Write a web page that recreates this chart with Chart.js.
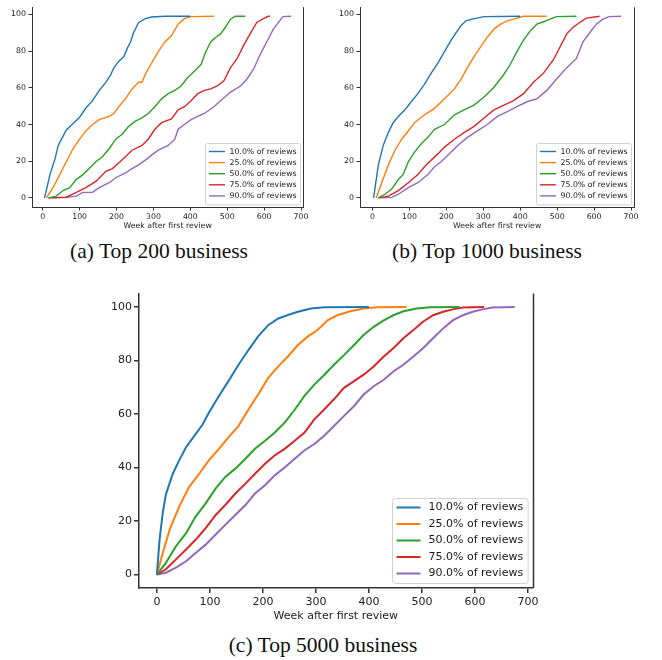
<!DOCTYPE html>
<html>
<head>
<meta charset="utf-8">
<script src="https://cdn.jsdelivr.net/npm/chart.js@4.4.0/dist/chart.umd.min.js"></script>
<style>
  body { margin: 0; background: #fff; width: 662px; height: 660px; position: relative; overflow: hidden; }
  canvas { position: absolute; }
  .cap {
    position: absolute; transform: translate(-50%, -50%);
    font-family: "Liberation Serif", "Times New Roman", serif; font-size: 21.5px;
    line-height: 1; white-space: nowrap; color: #111;
  }
</style>
</head>
<body>
<canvas id="top200" width="310" height="231" style="left:0;top:0"></canvas>
<canvas id="top1000" width="309" height="231" style="left:331px;top:0"></canvas>
<canvas id="top5000" width="441" height="338" style="left:100px;top:285px"></canvas>
<div class="cap" style="left:159px;top:252px">(a) Top 200 business</div>
<div class="cap" style="left:487px;top:252px">(b) Top 1000 business</div>
<div class="cap" style="left:323px;top:646px">(c) Top 5000 business</div>

<script>
// share of reviews reached, one curve per level
const levels = ['10.0', '25.0', '50.0', '75.0', '90.0'];
const weekTicks = [0, 100, 200, 300, 400, 500, 600, 700];
const pctTicks = [0, 20, 40, 60, 80, 100];

// Top 200 business: weeks after first review / percent of businesses
const t200w10 = [5, 20, 33, 42, 51, 64, 77, 100, 117, 135, 153, 171, 184, 193, 206, 220, 229, 238, 246, 260, 278, 295, 331, 400];
const t200p10 = [0, 13, 21, 28.6, 32, 37, 39.5, 44, 49, 53, 58.5, 63, 67, 71, 74.4, 77, 81.5, 85, 90, 95.6, 97.7, 98.6, 99, 99];
const t200w25 = [10, 28, 46, 64, 82, 100, 117, 135, 153, 180, 193, 206, 224, 242, 260, 269, 278, 295, 313, 331, 349, 367, 384, 402, 464];
const t200p25 = [0, 5.6, 12.7, 19.7, 26.8, 32, 36.5, 40, 42.7, 44.4, 46, 49.7, 54, 59.4, 63, 63, 67.4, 73.5, 79.7, 85, 88.5, 94.7, 97.7, 98.8, 99];
const t200w50 = [15, 37, 55, 73, 91, 109, 126, 144, 162, 180, 198, 215, 233, 251, 269, 286, 304, 322, 340, 358, 375, 393, 411, 429, 442, 455, 469, 482, 495, 509, 522, 549];
const t200p50 = [0, 1, 4, 5.6, 10, 12.7, 16, 19.7, 22.4, 26.8, 32, 34.7, 39, 41.8, 43.6, 46, 49.7, 54, 56.8, 58.6, 61, 65.6, 69, 72.7, 79.7, 85, 87.6, 89.4, 93, 97.4, 99, 99];
const t200w75 = [15, 64, 91, 117, 144, 171, 189, 206, 224, 242, 269, 286, 304, 322, 349, 367, 384, 402, 420, 438, 455, 473, 491, 509, 527, 544, 562, 580, 598, 611, 616];
const t200p75 = [0, 0.4, 3, 5.6, 9, 14.5, 16, 19, 22.4, 26, 28.6, 32, 37.4, 41, 43, 48, 49.7, 53, 56.8, 58.6, 59.4, 61, 63.8, 71, 76, 83, 89.4, 95.6, 97.7, 99, 99];
const t200w90 = [20, 64, 91, 109, 135, 153, 180, 198, 224, 242, 260, 278, 295, 313, 340, 358, 367, 384, 402, 420, 438, 464, 482, 509, 536, 553, 571, 589, 607, 625, 642, 651, 673];
const t200p90 = [0, 0.3, 1, 3, 3, 5.6, 8.3, 11, 13.6, 16, 18, 20.6, 23.3, 26, 28.6, 32, 37.4, 40, 42.7, 44.4, 46, 49.7, 53, 57.7, 61, 64.7, 70, 78, 85, 92, 96.5, 98.8, 99];

// Top 1000 business
const t1000w10 = [3, 7, 16, 29, 43, 56, 70, 88, 105, 123, 141, 159, 177, 195, 213, 226, 240, 253, 275, 302, 400];
const t1000p10 = [0, 5.6, 18, 28.6, 35.6, 41, 44.4, 48, 52.4, 56.8, 62, 68, 73.5, 79.7, 86, 90, 94, 96.5, 97.7, 98.8, 99];
const t1000w25 = [10, 25, 43, 61, 79, 97, 114, 141, 168, 195, 222, 240, 257, 275, 293, 311, 329, 347, 365, 391, 409, 472];
const t1000p25 = [0, 8.3, 18, 26, 32, 36.5, 41, 45.3, 48.8, 54, 59.4, 64.7, 71, 77, 82.4, 87.6, 92, 94.7, 96.5, 98, 99, 99];
const t1000w50 = [15, 34, 52, 70, 83, 97, 114, 132, 150, 168, 195, 222, 248, 275, 302, 329, 356, 373, 391, 409, 427, 445, 463, 481, 498, 552];
const t1000p50 = [0, 2, 4.8, 10, 12.7, 19.7, 25, 29.5, 33, 37.4, 40, 45.3, 48, 50.6, 55, 60.3, 67.4, 72.7, 79.7, 86, 91, 94.7, 96, 97.4, 98.8, 99];
const t1000w75 = [15, 43, 70, 97, 123, 141, 159, 177, 195, 222, 248, 275, 302, 329, 356, 382, 409, 436, 463, 490, 508, 526, 543, 561, 579, 615];
const t1000p75 = [0, 1, 4, 8.3, 12.7, 17, 20.6, 24, 27.7, 32, 35.6, 39, 43.6, 48, 50.6, 53, 56.8, 63, 68, 75.3, 82.4, 89.4, 93, 95.6, 98, 99];
const t1000w90 = [20, 52, 70, 97, 123, 150, 168, 186, 204, 231, 257, 284, 311, 338, 365, 391, 418, 445, 472, 498, 526, 552, 570, 588, 606, 624, 641, 673];
const t1000p90 = [0, 0.3, 2, 5.6, 8.3, 12.7, 17, 19.7, 23.3, 28.6, 33, 36.5, 40, 44.4, 47, 49.7, 52.4, 54, 58.6, 64.7, 71, 76, 85, 90, 94.7, 97.4, 98.8, 99];

// Top 5000 business
const t5000w10 = [0, 5, 11, 17, 30, 42, 55, 73, 86, 98, 117, 135, 154, 173, 191, 210, 229, 247, 266, 291, 316, 400];
const t5000p10 = [0, 13, 23, 30, 37.7, 42.7, 47.6, 52.5, 56, 60.5, 66.7, 72.3, 78.4, 84, 89, 93.2, 95.7, 97, 98.2, 99.4, 99.9, 100];
const t5000w25 = [0, 11, 24, 42, 61, 80, 98, 117, 135, 154, 173, 191, 210, 229, 247, 266, 285, 303, 322, 340, 365, 390, 415, 471];
const t5000p25 = [0, 8, 16.8, 25.4, 32.8, 37.7, 42.7, 47, 51.3, 55.6, 61.8, 67.3, 73.5, 77.8, 81.5, 85.8, 89, 91.4, 95, 96.9, 98.4, 99.4, 99.9, 100];
const t5000w50 = [0, 17, 36, 55, 73, 92, 111, 129, 148, 167, 185, 204, 222, 241, 260, 278, 297, 316, 334, 353, 372, 390, 409, 428, 446, 465, 490, 515, 571];
const t5000p50 = [0, 4.4, 10.6, 15.5, 21.7, 26.6, 32.2, 36.5, 39.6, 43.3, 47, 50, 53, 56.8, 61.6, 66.7, 71, 74.7, 78.4, 82, 85.8, 89.5, 92.6, 95, 96.9, 98.4, 99.4, 99.9, 100];
const t5000w75 = [0, 17, 36, 55, 73, 92, 111, 129, 148, 167, 185, 204, 222, 241, 260, 278, 297, 316, 334, 353, 372, 390, 409, 428, 446, 465, 484, 502, 521, 540, 558, 577, 617];
const t5000p75 = [0, 2, 5.7, 9.4, 13, 17.4, 22.3, 26, 30.3, 34, 37.7, 41.4, 44.5, 47, 50, 53, 58, 61.8, 65.5, 69.8, 72.3, 74.7, 77.8, 81.5, 84.6, 88.3, 91.4, 94.5, 96.9, 98.2, 99.1, 99.8, 100];
const t5000w90 = [0, 17, 36, 55, 73, 92, 111, 129, 148, 167, 185, 204, 222, 241, 260, 278, 297, 316, 334, 353, 372, 390, 409, 428, 446, 465, 484, 502, 521, 540, 558, 577, 596, 614, 633, 675];
const t5000p90 = [0, 0.7, 2.6, 5, 8.1, 11.2, 15, 18.6, 22.3, 26, 30.3, 33.4, 37, 40, 43.3, 46.4, 48.8, 52, 55.5, 59.3, 63, 67.3, 70.4, 72.8, 75.9, 78.4, 81.5, 84.6, 88.3, 92, 95, 96.9, 98.2, 99.1, 99.8, 100];

const palette = ['#1f77b4', '#ff7f0e', '#2ca02c', '#d62728', '#9467bd'];
const FONT = '"DejaVu Sans", sans-serif';

// right-hand axis line
const rightSpine = {
  id: 'rightSpine',
  afterDatasetsDraw(chart, args, opts) {
    const { ctx, chartArea: a } = chart;
    const x = Math.round(a.right) + (opts.width % 2 ? 0.5 : 0);
    ctx.save();
    ctx.strokeStyle = '#333';
    ctx.lineWidth = opts.width;
    ctx.beginPath();
    ctx.moveTo(x, a.top);
    ctx.lineTo(x, a.bottom);
    ctx.stroke();
    ctx.restore();
  }
};

// legend box in the lower right corner of the plot
const boxLegend = {
  id: 'boxLegend',
  afterDraw(chart, args, o) {
    const { ctx, chartArea: a } = chart;
    const sets = chart.data.datasets;
    ctx.save();
    ctx.font = o.fs + 'px ' + FONT;
    const textW = Math.max(...sets.map(d => ctx.measureText(d.label).width));
    const w = o.padL + o.handle + o.gap + textW + o.padR;
    const h = o.padT + o.row * (sets.length - 1) + o.padB;
    const x0 = Math.round(a.right - o.dx - w) + 0.5;
    const y0 = Math.round(a.bottom - o.dy - h) + 0.5;
    ctx.beginPath();
    ctx.roundRect(x0, y0, w, h, o.r);
    ctx.fillStyle = 'rgba(255,255,255,0.8)';
    ctx.fill();
    ctx.strokeStyle = 'rgba(204,204,204,0.9)';
    ctx.lineWidth = 1;
    ctx.stroke();
    sets.forEach((d, i) => {
      const y = y0 + o.padT + i * o.row;
      ctx.strokeStyle = d.borderColor;
      ctx.lineWidth = d.borderWidth;
      ctx.beginPath();
      ctx.moveTo(x0 + o.padL, y);
      ctx.lineTo(x0 + o.padL + o.handle, y);
      ctx.stroke();
      ctx.fillStyle = '#1a1a1a';
      ctx.textBaseline = 'middle';
      ctx.fillText(d.label, x0 + o.padL + o.handle + o.gap, y);
    });
    ctx.restore();
  }
};

function makeChart(id, weeks, pcts, cfg) {
  const datasets = weeks.map((w, i) => ({
    label: levels[i] + '% of reviews',
    data: w.map((x, j) => ({ x: x, y: pcts[i][j] })),
    borderColor: palette[i],
    backgroundColor: palette[i],
    borderWidth: cfg.lw,
    pointRadius: 0,
    tension: 0,
    fill: false
  }));

  const tickFont = { family: FONT, size: cfg.fs };
  return new Chart(document.getElementById(id), {
    type: 'line',
    data: { datasets: datasets },
    plugins: [rightSpine, boxLegend],
    options: {
      responsive: false,
      animation: false,
      layout: { autoPadding: false, padding: cfg.pad },
      plugins: {
        legend: { display: false },
        tooltip: { enabled: false },
        rightSpine: { width: cfg.spine },
        boxLegend: cfg.legend
      },
      scales: {
        x: {
          type: 'linear',
          min: cfg.xMin, max: cfg.xMax,
          afterBuildTicks: s => { s.ticks = weekTicks.map(v => ({ value: v })); },
          afterFit: s => { s.height = cfg.xAxisH; },
          ticks: { font: tickFont, color: '#222', padding: cfg.xPad, maxRotation: 0, autoSkip: false },
          grid: { drawOnChartArea: false, tickLength: cfg.tickLen, color: '#333', lineWidth: cfg.spine },
          border: { color: '#333', width: cfg.spine },
          title: { display: true, text: 'Week after first review', font: tickFont, color: '#222', padding: 0 }
        },
        y: {
          min: cfg.yMin, max: cfg.yMax,
          afterBuildTicks: s => { s.ticks = pctTicks.map(v => ({ value: v })); },
          afterFit: s => { s.width = cfg.yAxisW; },
          ticks: { font: tickFont, color: '#222', padding: cfg.yPad },
          grid: { drawOnChartArea: false, tickLength: cfg.tickLen, color: '#333', lineWidth: cfg.spine },
          border: { color: '#333', width: cfg.spine }
        }
      }
    }
  });
}

const smallLegend = { fs: 7.8, row: 11.1, padT: 8, padB: 9, padL: 3.5, handle: 16, gap: 4.5, padR: 4, dx: 3, dy: 3, r: 2 };
const smallCfg = {
  lw: 1.4, fs: 7.8, spine: 1, tickLen: 3.5, xPad: 1.5, yPad: 2.5,
  xAxisH: 24, yMin: -4.95, yMax: 103.95, legend: smallLegend
};

makeChart('top200',
  [t200w10, t200w25, t200w50, t200w75, t200w90],
  [t200p10, t200p25, t200p50, t200p75, t200p90],
  Object.assign({}, smallCfg, { pad: { left: 0, right: 3, top: 0, bottom: 0 }, yAxisW: 32, xMin: -29, xMax: 706 }));

makeChart('top1000',
  [t1000w10, t1000w25, t1000w50, t1000w75, t1000w90],
  [t1000p10, t1000p25, t1000p50, t1000p75, t1000p90],
  Object.assign({}, smallCfg, { pad: { left: 0, right: 3, top: 0, bottom: 0 }, yAxisW: 29, xMin: -33.75, xMax: 708.75 }));

makeChart('top5000',
  [t5000w10, t5000w25, t5000w50, t5000w75, t5000w90],
  [t5000p10, t5000p25, t5000p50, t5000p75, t5000p90],
  {
    lw: 2, fs: 11, spine: 1.5, tickLen: 5, xPad: 2.5, yPad: 2,
    pad: { left: 0, right: 4, top: 8, bottom: 0 }, yAxisW: 39, xAxisH: 35,
    xMin: -33.75, xMax: 708.75, yMin: -5, yMax: 105,
    legend: { fs: 11, row: 16.5, padT: 9, padB: 10, padL: 4, handle: 24, gap: 8, padR: 5, dx: 5, dy: 5, r: 3 }
  });
</script>
</body>
</html>
